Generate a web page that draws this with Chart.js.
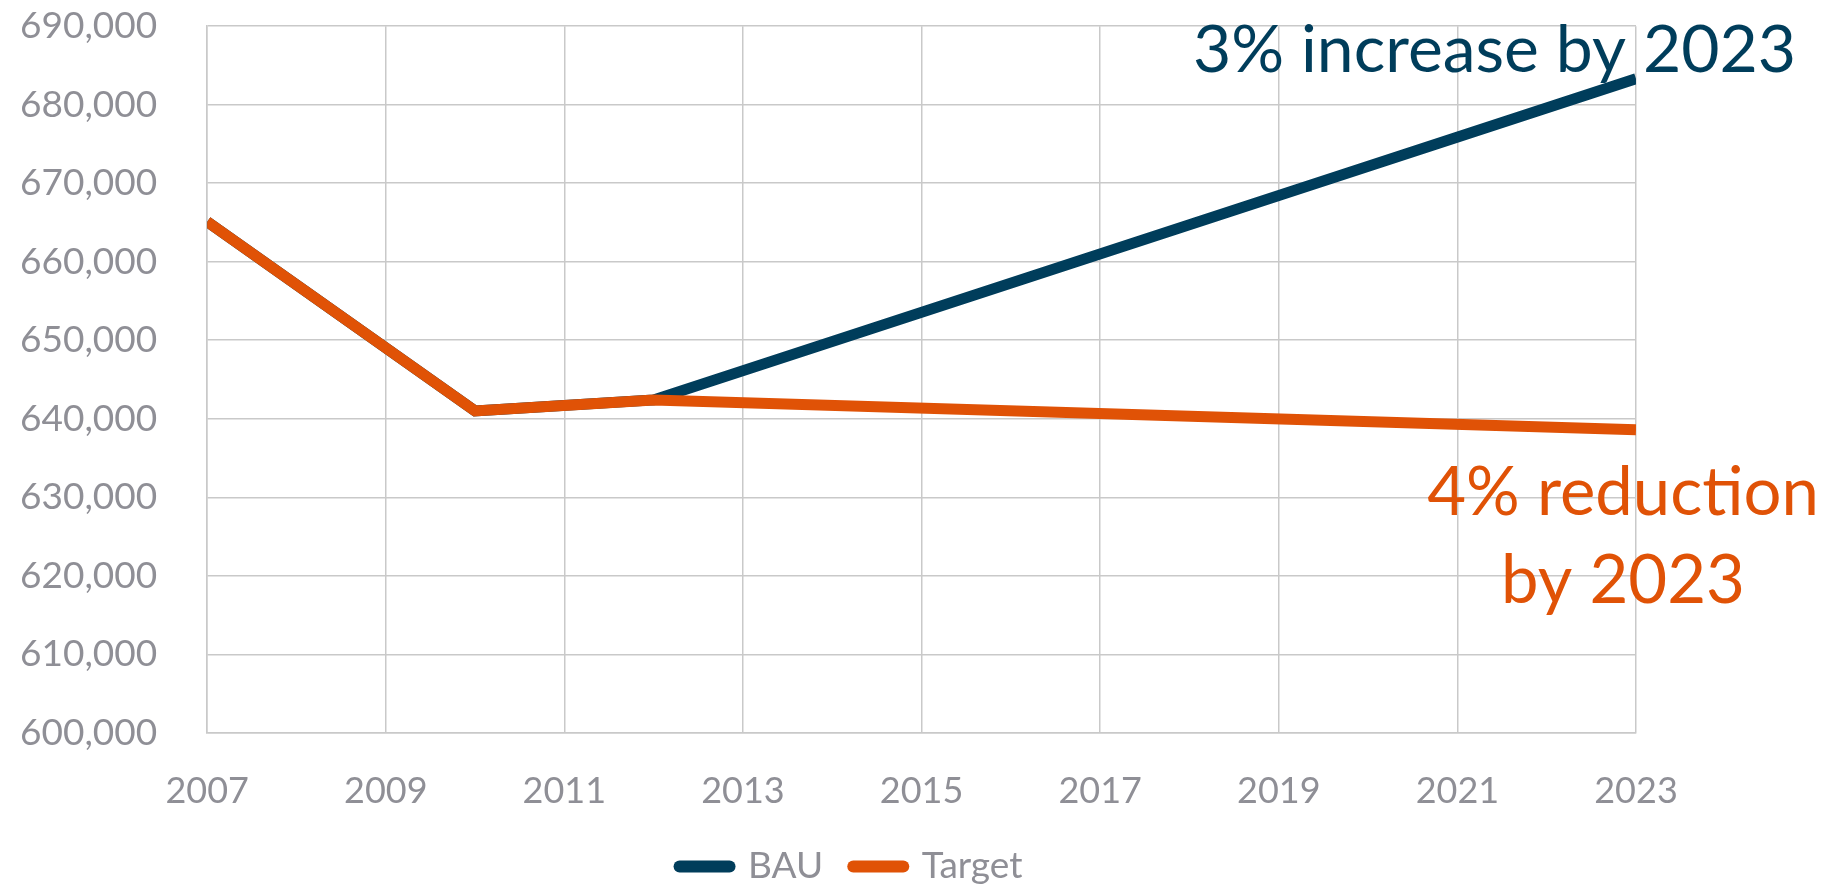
<!DOCTYPE html>
<html>
<head>
<meta charset="utf-8">
<script src="https://cdn.jsdelivr.net/npm/chart.js@4.4.0/dist/chart.umd.min.js"></script>
<style>
html,body{margin:0;padding:0;background:#fff;}
#wrap{width:1835px;height:886px;position:relative;}
</style>
</head>
<body>
<div id="wrap"><canvas id="myChart"></canvas></div>
<script>
// data
var years = [2007, 2010, 2012, 2023];
var bauVals = [665100, 641000, 642400, 683300];
var targetVals = [665100, 641000, 642400, 638600];
var xTicks = [2007, 2009, 2011, 2013, 2015, 2017, 2019, 2021, 2023];
var yMin = 600000, yMax = 690000, yStep = 10000;
var seriesNames = ['BAU', 'Target'];
var bauNote = ['3% increase by 2023'];
var targetNote = ['4% reduction', 'by 2023'];

var navy = '#003d5b';
var orange = '#e05206';
var grey = '#8f8f96';
var gridCol = '#c9c9c9';
var fontFam = 'Lato, "Open Sans", sans-serif';

function toPoints(vals){
    var pts = [];
    for (var i = 0; i < years.length; i++) {
        pts.push({x: years[i], y: vals[i]});
    }
    return pts;
}

// annotation texts next to line ends
var notesPlugin = {
    id: 'notes',
    afterDraw: function(chart){
        var ctx = chart.ctx;
        var area = chart.chartArea;
        ctx.save();
        ctx.font = '66px ' + fontFam;
        ctx.textBaseline = 'alphabetic';
        ctx.fillStyle = navy;
        ctx.textAlign = 'right';
        ctx.fillText(bauNote[0], area.right + 160, 72);
        ctx.font = '67px ' + fontFam;
        ctx.fillStyle = orange;
        ctx.textAlign = 'center';
        ctx.fillText(targetNote[0], area.right - 13, 515);
        ctx.fillText(targetNote[1], area.right - 13, 603);
        ctx.restore();
    }
};

// fixed legend height + small nudge, like the original layout
var legendH = 69;
var legendShift = {
    id: 'legendShift',
    beforeLayout: function(chart){
        var lg = chart.legend;
        if (lg && !lg._fixedFit) {
            var origFit = lg.fit;
            lg.fit = function(){
                origFit.call(this);
                this.height = legendH;
            };
            lg._fixedFit = true;
        }
    },
    afterLayout: function(chart){
        var lg = chart.legend;
        lg.left += 25;
        lg.right += 25;
        lg.top += 1;
        lg.bottom += 1;
    }
};

var chartContainer = document.getElementById('myChart');
var myChart = new Chart(chartContainer, {
    type: 'line',
    data: {
        datasets: [{
            label: seriesNames[0],
            data: toPoints(bauVals),
            borderColor: navy,
            backgroundColor: navy,
            borderWidth: 11,
            pointRadius: 0,
            tension: 0,
            order: 1
        },
        {
            label: seriesNames[1],
            data: toPoints(targetVals),
            borderColor: orange,
            backgroundColor: orange,
            borderWidth: 11,
            pointRadius: 0,
            tension: 0,
            order: 0
        }]
    },
    options: {
        responsive: true,
        maintainAspectRatio: false,
        animation: false,
        layout: {
            padding: {left: 16, right: 199, top: -2, bottom: 0}
        },
        scales: {
            x: {
                type: 'linear',
                min: 2007,
                max: 2023,
                afterBuildTicks: function(scale){
                    scale.ticks = xTicks.map(function(v){ return {value: v}; });
                },
                grid: {color: gridCol, lineWidth: 1.5, tickLength: 33, tickColor: 'rgba(0,0,0,0)'},
                border: {color: gridCol, width: 1.5},
                ticks: {
                    color: grey,
                    font: {family: fontFam, size: 36},
                    padding: 4,
                    maxRotation: 0,
                    autoSkip: false,
                    callback: function(v){ return String(v); }
                }
            },
            y: {
                min: yMin,
                max: yMax,
                grid: {color: gridCol, lineWidth: 1.5, tickLength: 46, tickColor: 'rgba(0,0,0,0)'},
                border: {color: gridCol, width: 1.5},
                ticks: {
                    stepSize: yStep,
                    color: grey,
                    font: {family: fontFam, size: 37},
                    padding: 4,
                    callback: function(v){ return v.toLocaleString('en-US'); }
                }
            }
        },
        plugins: {
            tooltip: {enabled: false},
            legend: {
                position: 'bottom',
                labels: {
                    color: grey,
                    font: {family: fontFam, size: 37},
                    usePointStyle: true,
                    pointStyleWidth: 50,
                    boxHeight: 12,
                    padding: 30,
                    sort: function(a, b){ return a.datasetIndex - b.datasetIndex; },
                    generateLabels: function(chart){
                        var items = Chart.defaults.plugins.legend.labels.generateLabels(chart);
                        items.forEach(function(it){
                            it.pointStyle = 'line';
                            it.lineCap = 'round';
                            it.lineWidth = 12;
                        });
                        return items;
                    }
                }
            }
        }
    },
    plugins: [notesPlugin, legendShift]
});
</script>
</body>
</html>
